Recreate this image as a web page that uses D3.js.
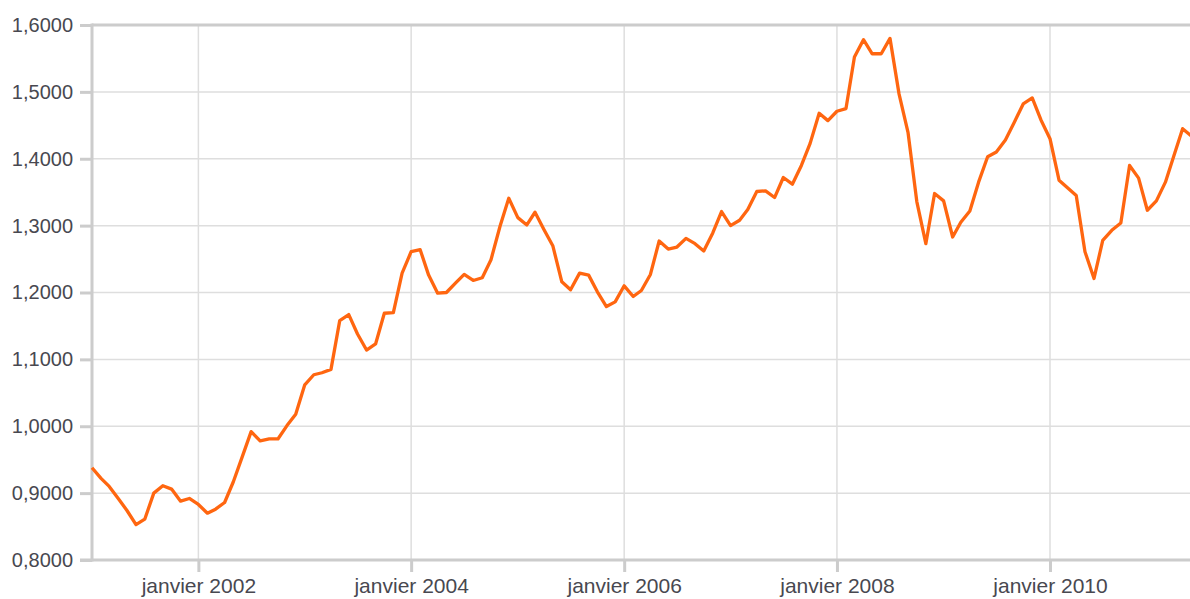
<!DOCTYPE html>
<html>
<head>
<meta charset="utf-8">
<script src="https://cdn.jsdelivr.net/npm/d3@7"></script>
<style>
  html, body { margin: 0; padding: 0; background: #fff; overflow: hidden; }
  svg { display: block; }
  text { font-family: "Liberation Sans", Arial, Helvetica, sans-serif; }
</style>
</head>
<body>
<svg id="chart" width="1190" height="599"></svg>
<script>
// Monthly values, starting January 2001
const startYear = 2001;
const values = [
  0.938, 0.922, 0.910, 0.892, 0.874, 0.853, 0.861, 0.900, 0.911, 0.906, 0.888, 0.892,
  0.883, 0.870, 0.876, 0.886, 0.917, 0.955, 0.992, 0.978, 0.981, 0.981, 1.001, 1.018,
  1.062, 1.077, 1.080, 1.085, 1.158, 1.167, 1.138, 1.114, 1.123, 1.169, 1.170, 1.229,
  1.261, 1.264, 1.226, 1.199, 1.200, 1.214, 1.227, 1.218, 1.222, 1.249, 1.299, 1.341,
  1.312, 1.301, 1.320, 1.294, 1.270, 1.216, 1.204, 1.229, 1.226, 1.201, 1.179, 1.186,
  1.210, 1.194, 1.203, 1.227, 1.277, 1.265, 1.268, 1.281, 1.273, 1.262, 1.289, 1.321,
  1.300, 1.308, 1.324, 1.351, 1.352, 1.342, 1.372, 1.362, 1.390, 1.423, 1.468, 1.457,
  1.471, 1.475, 1.552, 1.578, 1.557, 1.557, 1.580, 1.497, 1.439, 1.336, 1.273, 1.348,
  1.337, 1.283, 1.305, 1.322, 1.365, 1.403, 1.410, 1.428, 1.455, 1.482, 1.491, 1.458,
  1.430, 1.368, 1.357, 1.345, 1.261, 1.221, 1.278, 1.293, 1.304, 1.390, 1.371, 1.323,
  1.337, 1.365, 1.403, 1.445, 1.434
];
const yTicks = [0.8, 0.9, 1.0, 1.1, 1.2, 1.3, 1.4, 1.5, 1.6];
const xTickYears = [2002, 2004, 2006, 2008, 2010];
const xTickPrefix = "janvier ";

const data = values.map((v, i) => ({ date: new Date(startYear, i, 1), value: v }));

const svg = d3.select("#chart");
const mLeft = 92, mTop = 25, mBottom = 560, mRight = 1200;

// calibrate: Jan 2001 -> left, Jan 2010 -> 1050
const cal = d3.scaleTime().domain([new Date(2001, 0, 1), new Date(2010, 0, 1)]).range([mLeft, 1050]);
const lastDate = data[data.length - 1].date;
const x = d3.scaleTime().domain([data[0].date, lastDate]).range([mLeft, cal(lastDate)]);
const y = d3.scaleLinear().domain([0.8, 1.6]).range([mBottom, mTop]);

// horizontal grid
svg.append("g").selectAll("line").data(yTicks.slice(1, -1)).join("line")
  .attr("x1", mLeft).attr("x2", mRight)
  .attr("y1", d => y(d)).attr("y2", d => y(d))
  .attr("stroke", "#dedede").attr("stroke-width", 1.5);

// vertical grid
const xTickDates = xTickYears.map(yr => new Date(yr, 0, 1));
svg.append("g").selectAll("line").data(xTickDates).join("line")
  .attr("x1", d => x(d)).attr("x2", d => x(d))
  .attr("y1", mTop).attr("y2", mBottom)
  .attr("stroke", "#dedede").attr("stroke-width", 1.5);

// top border
svg.append("line").attr("x1", mLeft).attr("x2", mRight)
  .attr("y1", y(1.6)).attr("y2", y(1.6))
  .attr("stroke", "#cccccc").attr("stroke-width", 3);

// y axis
const yAxis = d3.axisLeft(y).tickValues(yTicks).tickSize(12).tickPadding(7)
  .tickFormat(d => d3.format(".4f")(d).replace(".", ","));
const gy = svg.append("g").attr("transform", `translate(${mLeft},0)`).call(yAxis);
gy.select(".domain").remove();
gy.selectAll(".tick line").attr("stroke", "#cccccc").attr("stroke-width", 3);
gy.selectAll(".tick text").attr("fill", "#484850").style("font-size", "20px")
  .attr("font-family", "'Liberation Sans', Arial, sans-serif");
svg.append("line").attr("x1", mLeft).attr("x2", mLeft).attr("y1", mTop - 1.5).attr("y2", mBottom + 1.5)
  .attr("stroke", "#cccccc").attr("stroke-width", 3);

// x axis
const xAxis = d3.axisBottom(x).tickValues(xTickDates).tickSize(12).tickPadding(6)
  .tickFormat(d => xTickPrefix + d.getFullYear());
const gx = svg.append("g").attr("transform", `translate(0,${mBottom})`).call(xAxis);
gx.select(".domain").remove();
gx.selectAll(".tick line").attr("stroke", "#cccccc").attr("stroke-width", 3);
gx.selectAll(".tick text").attr("fill", "#484850").style("font-size", "21px")
  .attr("font-family", "'Liberation Sans', Arial, sans-serif");
svg.append("line").attr("x1", mLeft - 12).attr("x2", mRight).attr("y1", mBottom).attr("y2", mBottom)
  .attr("stroke", "#cccccc").attr("stroke-width", 3);

// line
const line = d3.line().x(d => x(d.date)).y(d => y(d.value));
svg.append("path").datum(data)
  .attr("d", line)
  .attr("fill", "none")
  .attr("stroke", "#ff6610")
  .attr("stroke-width", 3.3)
  .attr("stroke-linejoin", "round");
</script>
</body>
</html>
